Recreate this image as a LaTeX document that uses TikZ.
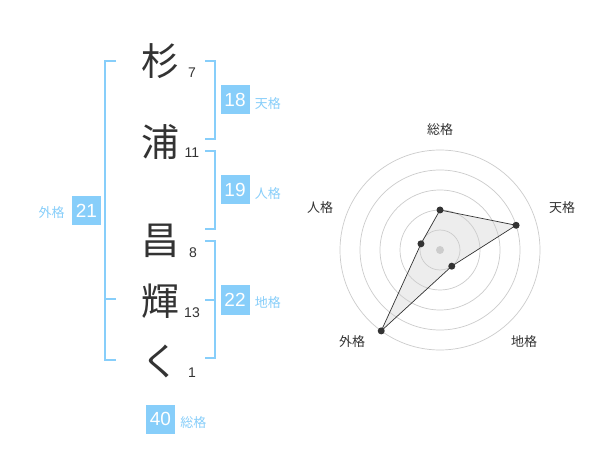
\documentclass[tikz,border=0pt]{standalone}
\usepackage{fontspec}
\setmainfont{Noto Sans CJK JP}
\newfontfamily\digitfont{Liberation Sans}
\usetikzlibrary{calc,positioning}
\definecolor{sky}{RGB}{135,206,250}
\definecolor{ink}{RGB}{51,51,51}
\definecolor{ring}{RGB}{204,204,204}
\tikzset{
	kanji/.style={text=ink, inner sep=0, font=\fontsize{38bp}{38bp}\selectfont},
	strokes/.style={text=ink, inner sep=0, font=\digitfont\fontsize{14bp}{14bp}\selectfont},
	score/.style={fill=sky, text=white, inner sep=0, minimum width=29bp, minimum height=29bp, font=\digitfont\fontsize{19bp}{19bp}\selectfont},
	kaku/.style={text=sky, inner sep=0, font=\fontsize{13bp}{13bp}\selectfont},
	axislabel/.style={text=ink, inner sep=0, font=\fontsize{13bp}{13bp}\selectfont},
	brk/.style={draw=sky, line width=2bp},
	dot/.style={fill=ink}
}
\begin{document}
\begin{tikzpicture}[x=1bp,y=-1bp]
	\useasboundingbox[fill=white] (0,0) rectangle (600,470);

	% name
	\node[kanji] (k1) at (160,61) {杉};
	\node[kanji] (k2) at (160,142) {浦};
	\node[kanji] (k3) at (160,241) {昌};
	\node[kanji] (k4) at (160,301) {輝};
	\node[kanji] (k5) at (160,361) {く};

	\node[strokes] (n1) at (192,73) {7};
	\node[strokes] (n2) at (192,153) {11};
	\node[strokes] (n3) at (193,253) {8};
	\node[strokes] (n4) at (192,313) {13};
	\node[strokes] (n5) at (192,373) {1};

	% brackets
	\draw[brk] (116,61) -- (105,61) -- (105,360) -- (116,360);
	\draw[brk] (105,299) -- (116,299);
	\draw[brk] (205,61) -- (215,61) -- (215,139) -- (205,139);
	\draw[brk] (205,151) -- (215,151) -- (215,229) -- (205,229);
	\draw[brk] (205,241) -- (215,241) -- (215,358) -- (205,358);
	\draw[brk] (205,300) -- (215,300);

	% scores
	\node[score] (ten) at (235,100) {18};
	\node[kaku, anchor=west] (tenl) at ([xshift=5bp,yshift=-3.5bp]ten.east) {天格};
	\node[score] (jin) at (235,190) {19};
	\node[kaku, anchor=west] (jinl) at ([xshift=5bp,yshift=-3.5bp]jin.east) {人格};
	\node[score] (chi) at (235,300) {22};
	\node[kaku, anchor=west] (chil) at ([xshift=5bp,yshift=-2.5bp]chi.east) {地格};
	\node[score] (gai) at (86.5,210.5) {21};
	\node[kaku, anchor=east] (gail) at ([xshift=-7bp,yshift=-2.5bp]gai.west) {外格};
	\node[score] (sou) at (160.5,419) {40};
	\node[kaku, anchor=west] (soul) at ([xshift=5bp,yshift=-3.5bp]sou.east) {総格};

	% radar
	\coordinate (c) at (440,250);
	\coordinate (rs) at ($(c)+(-90:40)$);
	\coordinate (rt) at ($(c)+(-18:80)$);
	\coordinate (rc) at ($(c)+(54:20)$);
	\coordinate (rg) at ($(c)+(126:100)$);
	\coordinate (rj) at ($(c)+(-162:20)$);

	\fill[black!7] (rs) -- (rt) -- (rc) -- (rg) -- (rj) -- cycle;
	\foreach \r in {20,40,60,80,100}
		\draw[ring, line width=0.7bp] (c) circle (\r bp);
	\fill[ring] (c) circle (4bp);
	\draw[ink, line width=0.7bp] (rs) -- (rt) -- (rc) -- (rg) -- (rj) -- cycle;
	\foreach \p in {rs,rt,rc,rg,rj}
		\fill[dot] (\p) circle (3.5bp);

	\node[axislabel] (as) at (440,130) {総格};
	\node[axislabel] (at) at (562,208) {天格};
	\node[axislabel] (aj) at (320,208) {人格};
	\node[axislabel] (ag) at (352,342) {外格};
	\node[axislabel] (ac) at (524,342) {地格};

\end{tikzpicture}
\end{document}
